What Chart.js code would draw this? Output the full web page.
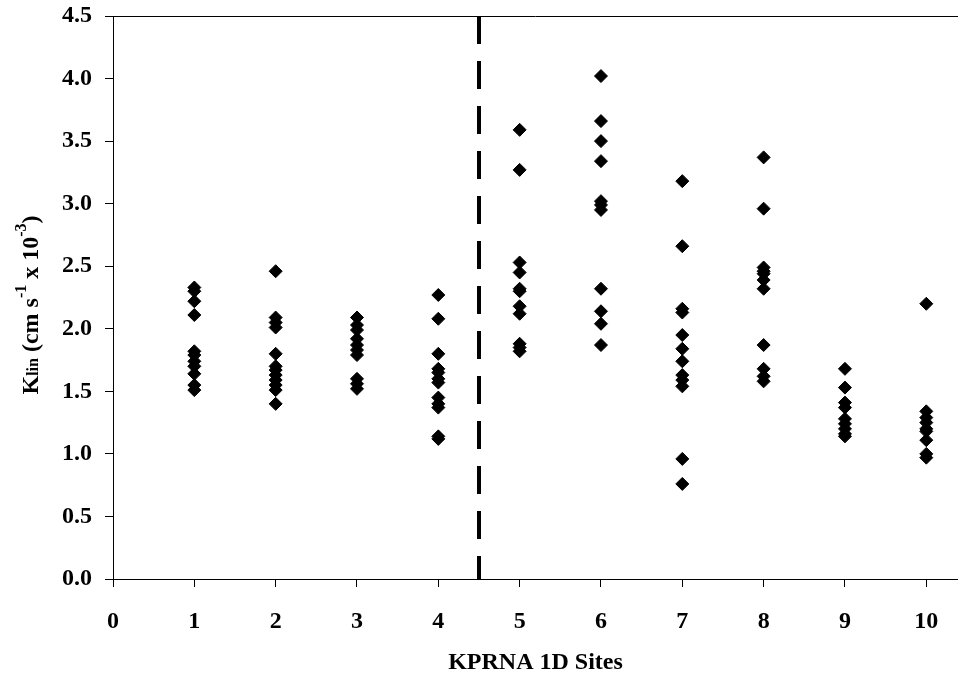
<!DOCTYPE html>
<html>
<head>
<meta charset="utf-8">
<script src="https://cdn.jsdelivr.net/npm/chart.js@4"></script>
<style>
  html, body { margin: 0; padding: 0; background: #fff; }
  #wrap { width: 958px; height: 679px; }
</style>
</head>
<body>
<div id="wrap"><canvas id="klinChart" width="958" height="679"></canvas></div>
<script>
// Site numbers and Klin values
const sites = [1, 2, 3, 4, 5, 6, 7, 8, 9, 10];
const site1 = [2.33, 2.30, 2.22, 2.11, 1.82, 1.79, 1.74, 1.70, 1.64, 1.55, 1.51];
const site2 = [2.46, 2.09, 2.05, 2.01, 1.80, 1.70, 1.67, 1.63, 1.59, 1.55, 1.51, 1.40];
const site3 = [2.09, 2.03, 1.99, 1.92, 1.87, 1.83, 1.79, 1.60, 1.56, 1.52];
const site4 = [2.27, 2.08, 1.80, 1.68, 1.65, 1.60, 1.57, 1.45, 1.40, 1.37, 1.14, 1.12];
const site5 = [3.59, 3.27, 2.53, 2.45, 2.32, 2.30, 2.18, 2.12, 1.88, 1.85, 1.82];
const site6 = [4.02, 3.66, 3.50, 3.34, 3.02, 2.99, 2.95, 2.32, 2.14, 2.04, 1.87];
const site7 = [3.18, 2.66, 2.16, 2.13, 1.95, 1.84, 1.74, 1.63, 1.59, 1.54, 0.96, 0.76];
const site8 = [3.37, 2.96, 2.49, 2.46, 2.44, 2.39, 2.32, 1.87, 1.68, 1.62, 1.58];
const site9 = [1.68, 1.53, 1.41, 1.37, 1.28, 1.24, 1.20, 1.16, 1.14];
const site10 = [2.20, 1.34, 1.29, 1.25, 1.20, 1.18, 1.11, 1.00, 0.97];
const siteValues = [site1, site2, site3, site4, site5, site6, site7, site8, site9, site10];

const xTicks = [0, 1, 2, 3, 4, 5, 6, 7, 8, 9, 10];
const yTicks = [0.0, 0.5, 1.0, 1.5, 2.0, 2.5, 3.0, 3.5, 4.0, 4.5];
const dividerX = 4.5;

const FONT = '"Liberation Serif", "Times New Roman", serif';

// build scatter points
const points = [];
sites.forEach(function (s, i) {
    siteValues[i].forEach(function (v) {
        points.push({ x: s, y: v });
    });
});

// dashed divider, top frame line and the y title with sub/superscripts
const extrasPlugin = {
    id: 'extras',
    afterDraw: function (chart) {
        const ctx = chart.ctx;
        const area = chart.chartArea;
        const xs = chart.scales.x;

        ctx.save();
        ctx.strokeStyle = '#000';
        ctx.lineWidth = 1;
        ctx.beginPath();
        ctx.moveTo(area.left, area.top + 0.5);
        ctx.lineTo(area.right, area.top + 0.5);
        ctx.stroke();

        const px = Math.round(xs.getPixelForValue(dividerX));
        ctx.lineWidth = 4;
        ctx.setLineDash([28, 17]);
        ctx.beginPath();
        ctx.moveTo(px, area.top);
        ctx.lineTo(px, area.bottom);
        ctx.stroke();
        ctx.restore();

        // y axis title
        ctx.save();
        ctx.translate(38, 305);
        ctx.rotate(-Math.PI / 2);
        ctx.fillStyle = '#000';
        ctx.textBaseline = 'alphabetic';
        const parts = [
            { t: 'K', size: 24, dy: 0 },
            { t: 'lin', size: 16, dy: 0 },
            { t: ' (cm s', size: 24, dy: 0 },
            { t: '-1', size: 16, dy: -12 },
            { t: ' x 10', size: 24, dy: 0 },
            { t: '-3', size: 16, dy: -12 },
            { t: ')', size: 24, dy: 0 }
        ];
        let total = 0;
        parts.forEach(function (p) {
            ctx.font = 'bold ' + p.size + 'px ' + FONT;
            p.w = ctx.measureText(p.t).width;
            total += p.w;
        });
        let cx = -total / 2;
        parts.forEach(function (p) {
            ctx.font = 'bold ' + p.size + 'px ' + FONT;
            ctx.fillText(p.t, cx, p.dy);
            cx += p.w;
        });
        ctx.restore();
    }
};

new Chart(document.getElementById('klinChart'), {
    type: 'scatter',
    data: {
        datasets: [{
            label: 'Klin',
            data: points,
            pointStyle: 'rectRot',
            pointRadius: 6.5,
            pointHoverRadius: 6.5,
            backgroundColor: '#000',
            borderColor: '#000',
            borderWidth: 1
        }]
    },
    options: {
        responsive: false,
        animation: false,
        layout: { autoPadding: false, padding: { top: 16, right: 0, left: 0, bottom: 0 } },
        plugins: {
            legend: { display: false },
            tooltip: { enabled: false }
        },
        scales: {
            x: {
                type: 'linear',
                min: 0,
                max: 10.39,
                afterBuildTicks: function (axis) {
                    axis.ticks = xTicks.map(function (v) { return { value: v }; });
                },
                afterFit: function (axis) {
                    axis.height = 100;
                    axis.paddingLeft = 0;
                    axis.paddingRight = 0;
                },
                grid: {
                    drawOnChartArea: false,
                    drawTicks: true,
                    tickLength: 8,
                    color: '#000'
                },
                border: { color: '#000', width: 1 },
                ticks: {
                    color: '#000',
                    padding: 20,
                    maxRotation: 0,
                    autoSkip: false,
                    font: { family: FONT, size: 24, weight: 'bold' }
                },
                title: {
                    display: true,
                    text: 'KPRNA 1D Sites',
                    color: '#000',
                    padding: { top: 0, bottom: 2 },
                    font: { family: FONT, size: 24, weight: 'bold' }
                }
            },
            y: {
                type: 'linear',
                min: 0,
                max: 4.5,
                afterBuildTicks: function (axis) {
                    axis.ticks = yTicks.map(function (v) { return { value: v }; });
                },
                afterFit: function (axis) {
                    axis.width = 113;
                    axis.paddingTop = 0;
                    axis.paddingBottom = 0;
                },
                grid: {
                    drawOnChartArea: false,
                    drawTicks: true,
                    tickLength: 8,
                    color: '#000'
                },
                border: { color: '#000', width: 1 },
                ticks: {
                    color: '#000',
                    padding: 13,
                    callback: function (v) { return Number(v).toFixed(1); },
                    font: { family: FONT, size: 24, weight: 'bold' }
                }
            }
        }
    },
    plugins: [extrasPlugin]
});
</script>
</body>
</html>
